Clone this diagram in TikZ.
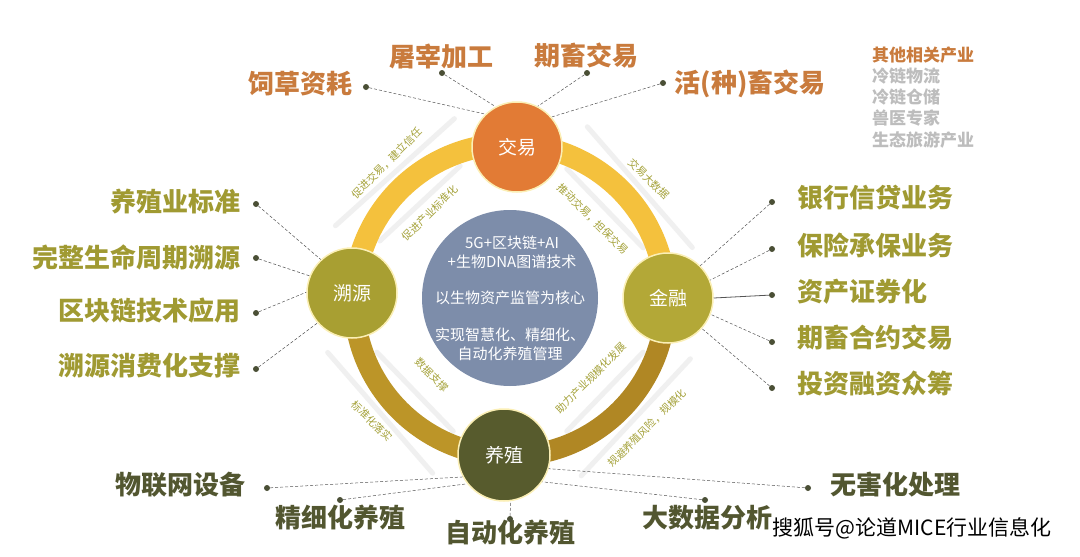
\documentclass[tikz,border=0pt]{standalone}
\usepackage{fontspec}
\setmainfont{Noto Sans CJK SC}
\usetikzlibrary{calc}
\definecolor{jyorange}{HTML}{E27B35}
\definecolor{syolive}{HTML}{A89F32}
\definecolor{jrolive}{HTML}{B3A837}
\definecolor{yzdark}{HTML}{575B2D}
\definecolor{ringyellow}{HTML}{F4C13D}
\definecolor{ringgoldl}{HTML}{BC9528}
\definecolor{ringgoldr}{HTML}{B08724}
\definecolor{ringedge}{HTML}{FBEFB5}
\definecolor{hubblue}{HTML}{7D8DAA}
\definecolor{toptxt}{HTML}{C97B3D}
\definecolor{sidetxt}{HTML}{A09A32}
\definecolor{bottxt}{HTML}{525630}
\definecolor{ringtxt}{HTML}{A5A23A}
\definecolor{dotcol}{HTML}{4A4F35}
\definecolor{linecol}{HTML}{555555}
\definecolor{listgray}{HTML}{BDBDBD}
\begin{document}
\begin{tikzpicture}[x=1pt,y=-1pt,
  hub/.style={circle,minimum size=90pt,inner sep=0pt,draw=ringedge,line width=1.5pt,
    text=white,font=\fontsize{19}{21}\selectfont},
  dot/.style={circle,fill=dotcol,inner sep=0pt,minimum size=6pt},
  link/.style={densely dashed,line width=0.5pt,draw=linecol},
  biglabel/.style={inner sep=0pt,font=\bfseries\fontsize{26}{28}\selectfont},
  ringtext/.style={inner sep=0pt,text=ringtxt,font=\fontsize{10.5}{12}\selectfont},
  coretext/.style={align=center,text=white,font=\fontsize{15}{19}\selectfont},
  listtext/.style={anchor=west,inner sep=0pt,font=\bfseries\fontsize{17}{19}\selectfont},
  stripe/.style={line width=5pt,draw=gray!12,line cap=round}]
  \fill[white] (0,0) rectangle (1080,557);
  \useasboundingbox (0,0) rectangle (1080,557);
  \coordinate (c) at (510,300);

  % light strips beside the ring
  \draw[stripe] ($(c)+(228:172)+(138:80)$) -- ($(c)+(228:172)+(-42:80)$);
  \draw[stripe] ($(c)+(227:132)+(137:55)$) -- ($(c)+(227:132)+(-43:55)$);
  \draw[stripe] ($(c)+(319:172)+(49:80)$) -- ($(c)+(319:172)+(229:80)$);
  \draw[stripe] ($(c)+(316:132)+(46:55)$) -- ($(c)+(316:132)+(226:55)$);
  \draw[stripe] ($(c)+(139:172)+(49:80)$) -- ($(c)+(139:172)+(229:80)$);
  \draw[stripe] ($(c)+(136:132)+(46:55)$) -- ($(c)+(136:132)+(226:55)$);
  \draw[stripe] ($(c)+(43:172)+(133:80)$) -- ($(c)+(43:172)+(-47:80)$);
  \draw[stripe] ($(c)+(44:132)+(134:55)$) -- ($(c)+(44:132)+(-46:55)$);

  % ring
  \draw[line width=22pt,draw=ringyellow] (c) ++(180:156) arc[start angle=180,end angle=360,radius=156];
  \draw[line width=21pt,draw=ringgoldl] (c) ++(90:156) arc[start angle=90,end angle=180,radius=156];
  \draw[line width=21pt,draw=ringgoldr] (c) ++(0:156) arc[start angle=0,end angle=90,radius=156];

  % centre
  \node[circle,fill=hubblue,minimum size=176pt,inner sep=0pt] (core) at (510,298) {};
  \node[coretext] (tech) at (512,252) {5G+区块链+AI\\+生物DNA图谱技术};
  \node[coretext] (focus) at (510,298) {以生物资产监管为核心};
  \node[coretext] (goal) at (510,344) {实现智慧化、精细化、\\自动化养殖管理};

  % hubs
  \node[hub,fill=jyorange] (jy) at (517,147) {交易};
  \node[hub,fill=syolive] (sy) at (352,293) {溯源};
  \node[hub,fill=jrolive] (jr) at (668,298) {金融};
  \node[hub,fill=yzdark,minimum size=92pt] (yz) at (504,455) {养殖};

  % texts on the ring
  \node[ringtext,rotate=45] (ul1) at (387,163) {促进交易，建立信任};
  \node[ringtext,rotate=45] (ul2) at (430,213) {促进产业标准化};
  \node[ringtext,rotate=-45] (ur1) at (649,179) {交易大数据};
  \node[ringtext,rotate=-45] (ur2) at (593,219) {推动交易，担保交易};
  \node[ringtext,rotate=-45] (ll1) at (372,421) {标准化落实};
  \node[ringtext,rotate=-45] (ll2) at (432,375) {数据支撑};
  \node[ringtext,rotate=45] (lr1) at (647,428) {规避养殖风险，规模化};
  \node[ringtext,rotate=45] (lr2) at (591,378) {助力产业规模化发展};

  % trade
  \node[biglabel,text=toptxt] (feed) at (300,84) {饲草资耗};
  \node[biglabel,text=toptxt] (slaughter) at (441,56) {屠宰加工};
  \node[biglabel,text=toptxt] (futures) at (586,56) {期畜交易};
  \node[biglabel,text=toptxt] (live) at (750,84) {活(种)畜交易};
  \node[dot] (d1) at (366,87) {};
  \node[dot] (d2) at (442,73) {};
  \node[dot] (d3) at (587,73) {};
  \node[dot] (d4) at (663,83) {};
  \draw[link] (d1) -- (jy.134);
  \draw[link] (d2) -- (jy.118);
  \draw[link] (d3) -- (jy.63);
  \draw[link] (d4) -- (jy.41);

  % traceability
  \node[biglabel,text=sidetxt,anchor=east] (std) at (241,202) {养殖业标准};
  \node[biglabel,text=sidetxt,anchor=east] (life) at (241,257) {完整生命周期溯源};
  \node[biglabel,text=sidetxt,anchor=east] (chain) at (241,311) {区块链技术应用};
  \node[biglabel,text=sidetxt,anchor=east] (use) at (241,366) {溯源消费化支撑};
  \node[dot] (s1) at (256,204) {};
  \node[dot] (s2) at (256,258) {};
  \node[dot] (s3) at (256,313) {};
  \node[dot] (s4) at (256,369) {};
  \draw[link] (s1) -- (sy.133);
  \draw[link] (s2) -- (sy.158);
  \draw[link] (s3) -- (sy.179);
  \draw[link] (s4) -- (sy.221);

  % finance
  \node[biglabel,text=sidetxt,anchor=west] (bank) at (797,198) {银行信贷业务};
  \node[biglabel,text=sidetxt,anchor=west] (insure) at (797,245) {保险承保业务};
  \node[biglabel,text=sidetxt,anchor=west] (asset) at (797,292) {资产证券化};
  \node[biglabel,text=sidetxt,anchor=west] (contract) at (797,338) {期畜合约交易};
  \node[biglabel,text=sidetxt,anchor=west] (invest) at (797,383) {投资融资众筹};
  \node[dot] (f1) at (772,202) {};
  \node[dot] (f2) at (772,249) {};
  \node[dot] (f3) at (772,295) {};
  \node[dot] (f4) at (772,342) {};
  \node[dot] (f5) at (772,388) {};
  \draw[link] (f1) -- (jr.45);
  \draw[link] (f2) -- (jr.23);
  \draw[line width=0.8pt,draw=linecol] (f3) -- (jr.0);
  \draw[link] (f4) -- (jr.-21);
  \draw[link] (f5) -- (jr.-42);

  % breeding
  \node[biglabel,text=bottxt] (iot) at (180,485) {物联网设备};
  \node[biglabel,text=bottxt] (fine) at (340,518) {精细化养殖};
  \node[biglabel,text=bottxt] (auto) at (510,533) {自动化养殖};
  \node[biglabel,text=bottxt] (data) at (707,518) {大数据分析};
  \node[biglabel,text=bottxt] (safe) at (895,485) {无害化处理};
  \node[dot] (b1) at (267,488) {};
  \node[dot] (b2) at (340,500) {};
  \node[dot] (b3) at (510,519) {};
  \node[dot] (b4) at (705,500) {};
  \node[dot] (b5) at (808,488) {};
  \draw[link] (b1) -- (yz.208);
  \draw[link] (b2) -- (yz.218);
  \draw[link] (b3) -- (yz.278);
  \draw[link] (b4) -- (yz.325);
  \draw[link] (b5) -- (yz.343);

  % other industries
  \node[listtext,text=toptxt] (other) at (872,55) {其他相关产业};
  \node[listtext,text=listgray] (cold1) at (872,76) {冷链物流};
  \node[listtext,text=listgray] (cold2) at (872,97) {冷链仓储};
  \node[listtext,text=listgray] (vet) at (872,118) {兽医专家};
  \node[listtext,text=listgray] (eco) at (872,140) {生态旅游产业};

  \node[inner sep=0pt,font=\fontsize{21}{23}\selectfont] (mark) at (912,528) {搜狐号@论道MICE行业信息化};
\end{tikzpicture}
\end{document}
